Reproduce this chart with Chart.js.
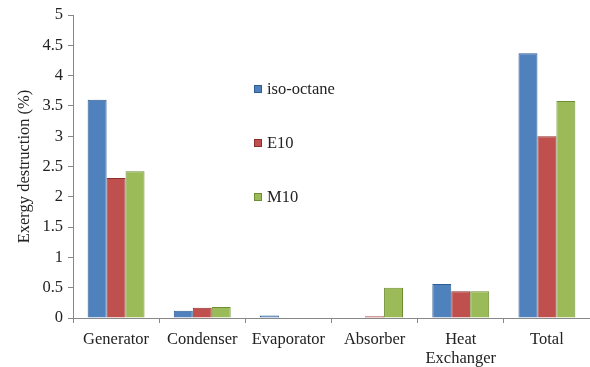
<!DOCTYPE html>
<html lang="en">
<head>
    <meta charset="UTF-8">
    <title>Exergy destruction</title>
    <script src="https://cdn.jsdelivr.net/npm/chart.js"></script>
    <style>
        html, body { margin: 0; padding: 0; background: #fff; }
        #wrap { width: 590px; height: 367px; }
    </style>
</head>
<body>
    <div id="wrap"><canvas id="exergyChart" width="590" height="367"></canvas></div>

    <script>
        // Data
        const categories = ['Generator', 'Condenser', 'Evaporator', 'Absorber', ['Heat', 'Exchanger'], 'Total'];
        const isoOctane = [3.6, 0.12, 0.04, 0.01, 0.56, 4.37];
        const e10 = [2.31, 0.17, 0, 0.03, 0.44, 3.0];
        const m10 = [2.42, 0.18, 0, 0.5, 0.44, 3.58];
        const seriesNames = ['iso-octane', 'E10', 'M10'];

        const serif = '"Liberation Serif", "DejaVu Serif", serif';
        const fontSize = 16.5;

        // legend drawn inside the plot area, stacked vertically
        const innerLegend = {
            id: 'innerLegend',
            afterDraw(chart) {
                const ctx = chart.ctx;
                const area = chart.chartArea;
                ctx.save();
                ctx.font = fontSize + 'px ' + serif;
                ctx.textBaseline = 'middle';
                chart.data.datasets.forEach((ds, i) => {
                    const x = area.left + 181;
                    const y = area.top + 74 + i * 54;
                    ctx.fillStyle = ds.backgroundColor;
                    ctx.fillRect(x, y - 4, 8, 8);
                    ctx.strokeStyle = ds.borderColor;
                    ctx.lineWidth = 1;
                    ctx.strokeRect(x + 0.5, y - 3.5, 7, 7);
                    ctx.fillStyle = '#222';
                    ctx.fillText(ds.label, x + 13, y + 1);
                });
                ctx.restore();
            }
        };

        new Chart(document.getElementById('exergyChart'), {
            type: 'bar',
            data: {
                labels: categories,
                datasets: [
                    { label: seriesNames[0], data: isoOctane, backgroundColor: '#4F81BD', borderColor: '#2F5B93' },
                    { label: seriesNames[1], data: e10, backgroundColor: '#C0504D', borderColor: '#8C2E2B' },
                    { label: seriesNames[2], data: m10, backgroundColor: '#9BBB59', borderColor: '#6E8E32' }
                ]
            },
            options: {
                responsive: false,
                animation: false,
                layout: { padding: { top: 15, right: 0, bottom: 0, left: 0 } },
                datasets: {
                    bar: { borderWidth: 1, categoryPercentage: 0.66, barPercentage: 1.0 }
                },
                plugins: {
                    legend: { display: false },
                    tooltip: { enabled: false }
                },
                scales: {
                    x: {
                        grid: { display: true, drawOnChartArea: false, tickLength: 5, color: '#888' },
                        border: { color: '#888' },
                        ticks: { color: '#222', font: { family: serif, size: fontSize, lineHeight: 1.1 }, padding: 8, maxRotation: 0 },
                        afterFit(scale) { scale.height = 49; }
                    },
                    y: {
                        min: 0,
                        max: 5,
                        ticks: {
                            stepSize: 0.5,
                            color: '#222',
                            font: { family: serif, size: fontSize },
                            padding: 5,
                            callback: v => String(Number(v))
                        },
                        grid: { display: true, drawOnChartArea: false, tickLength: 5, color: '#888' },
                        border: { color: '#888' },
                        title: {
                            display: true,
                            text: 'Exergy destruction (%)',
                            color: '#222',
                            font: { family: serif, size: fontSize },
                            padding: { top: 15, bottom: 4 }
                        },
                        afterFit(scale) { scale.width = 73; }
                    }
                }
            },
            plugins: [innerLegend]
        });
    </script>
</body>
</html>
